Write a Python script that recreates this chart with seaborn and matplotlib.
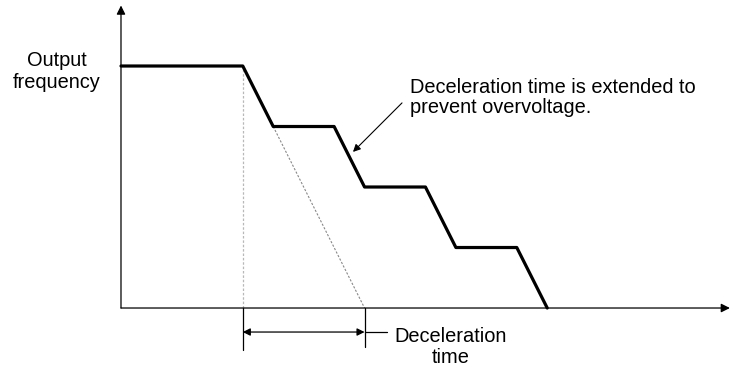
import matplotlib
matplotlib.use("Agg")
import matplotlib.pyplot as plt
import seaborn as sns
import pandas as pd

# Output frequency profile with stall prevention during deceleration
time = [0, 4, 5, 7, 8, 10, 11, 13, 14]
freq = [4, 4, 3, 3, 2, 2, 1, 1, 0]

# Normal (unextended) deceleration ramp
ramp_time = [5, 8]
ramp_freq = [3, 0]

decel_start = 4
decel_end = 8
axis_t_max = 20
axis_f_max = 5

sns.set_theme(style="white")
plt.rcParams["font.family"] = ["Liberation Sans", "DejaVu Sans"]

fig = plt.figure(figsize=(7.43, 3.67), dpi=100)
ax = fig.add_axes([0, 0, 1, 1])
ax.set_xlim(-3.974, 20.43)
ax.set_ylim(-0.975, 5.091)
ax.set_axis_off()

df = pd.DataFrame({"time": time, "freq": freq})

# reference guides
ax.plot([decel_start, decel_start], [0, freq[1]], color="#b8b8b8", lw=0.9, ls=(0, (2, 1.5)), zorder=1)
sns.lineplot(x=ramp_time, y=ramp_freq, ax=ax, color="#888888", lw=0.8, ls=(0, (2, 1.5)), zorder=1)

# axes with arrows
arrow_kw = dict(arrowstyle="-|>", color="black", lw=0.9, mutation_scale=13, shrinkA=0, shrinkB=0)
ax.annotate("", xy=(axis_t_max, 0), xytext=(0, 0), arrowprops=arrow_kw, zorder=2)
ax.annotate("", xy=(0, axis_f_max), xytext=(0, 0), arrowprops=arrow_kw, zorder=2)

# frequency profile
sns.lineplot(data=df, x="time", y="freq", ax=ax, color="black", lw=2.3, sort=False, zorder=3)

# deceleration time span
ax.plot([decel_start, decel_start], [0, -0.694], color="black", lw=0.9)
ax.plot([decel_end, decel_end], [0, -0.645], color="black", lw=0.9)
ax.annotate("", xy=(decel_start, -0.397), xytext=(decel_end, -0.397),
            arrowprops=dict(arrowstyle="<|-|>", color="black", lw=0.9, mutation_scale=11,
                            shrinkA=0, shrinkB=0))
ax.plot([decel_end, 8.74], [-0.397, -0.397], color="black", lw=0.9)
text_kw = dict(fontsize=14.4, color="black", va="baseline")
ax.text(10.84, -0.562, "Deceleration", ha="center", **text_kw)
ax.text(10.84, -0.909, "time", ha="center", **text_kw)

# annotation for extended deceleration
ax.annotate("", xy=(7.62, 2.58), xytext=(9.23, 3.39),
            arrowprops=dict(arrowstyle="-|>", color="black", lw=0.8, mutation_scale=11,
                            shrinkA=0, shrinkB=0))
ax.text(9.49, 3.554, "Deceleration time is extended to", ha="left", **text_kw)
ax.text(9.49, 3.223, "prevent overvoltage.", ha="left", **text_kw)

# vertical axis title
ax.text(-2.10, 4.0, "Output", ha="center", **text_kw)
ax.text(-2.10, 3.636, "frequency", ha="center", **text_kw)

fig.savefig("out.png", dpi=100)
